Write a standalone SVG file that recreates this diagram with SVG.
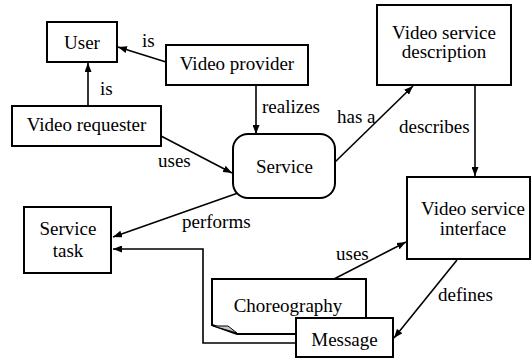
<svg xmlns="http://www.w3.org/2000/svg" width="531" height="360" viewBox="0 0 531 360">
  <style>
    .box { fill: #fff; stroke: #000; stroke-width: 2; }
    .lbl { font-family: "Liberation Serif", "Times New Roman", serif; font-size: 19px; fill: #000; }
    .mid { text-anchor: middle; }
    .edge { fill: none; stroke: #000; stroke-width: 1.6; marker-end: url(#arrow); }
  </style>
  <defs>
    <marker id="arrow" viewBox="0 0 9 7" refX="9" refY="3.5" markerWidth="9" markerHeight="7" markerUnits="userSpaceOnUse" orient="auto">
      <path d="M0,0 L9,3.5 L0,7 Z" fill="#000"/>
    </marker>
  </defs>
  <rect width="531" height="360" fill="#fff"/>

  <!-- connectors and their labels -->
  <g id="connectors">
    <line class="edge" x1="166" y1="62" x2="118" y2="47"/>
    <line class="edge" x1="88" y1="106" x2="88" y2="63"/>
    <line class="edge" x1="256" y1="85" x2="256" y2="134"/>
    <line class="edge" x1="161" y1="136" x2="232" y2="173"/>
    <line class="edge" x1="335" y1="162" x2="413" y2="86"/>
    <line class="edge" x1="475" y1="85" x2="475" y2="176"/>
    <line class="edge" x1="238" y1="193" x2="113" y2="237"/>
    <line class="edge" x1="334" y1="279" x2="406" y2="242"/>
    <line class="edge" x1="457" y1="260" x2="394" y2="338"/>
    <polyline class="edge" points="296,343 203,343 203,249 113,249"/>
    <text class="lbl" x="142" y="47">is</text>
    <text class="lbl" x="100" y="95">is</text>
    <text class="lbl" x="262" y="113">realizes</text>
    <text class="lbl" x="158" y="167">uses</text>
    <text class="lbl" x="337" y="123">has a</text>
    <text class="lbl" x="399" y="133">describes</text>
    <text class="lbl" x="182" y="228">performs</text>
    <text class="lbl" x="336" y="260">uses</text>
    <text class="lbl" x="438" y="301">defines</text>
  </g>

  <g id="user">
    <rect class="box" x="47" y="22" width="70" height="40"/>
    <text class="lbl mid" x="82" y="49">User</text>
  </g>
  <g id="video-provider">
    <rect class="box" x="166" y="45" width="142" height="40"/>
    <text class="lbl mid" x="237" y="70">Video provider</text>
  </g>
  <g id="video-requester">
    <rect class="box" x="12" y="106" width="149" height="40"/>
    <text class="lbl mid" x="86.5" y="131">Video requester</text>
  </g>
  <g id="service">
    <rect class="box" x="233" y="134" width="102" height="64" rx="15" ry="15"/>
    <text class="lbl mid" x="284.5" y="173">Service</text>
  </g>
  <g id="video-service-description">
    <rect class="box" x="377" y="5" width="134" height="80"/>
    <text class="lbl mid" x="444" y="39">Video service</text>
    <text class="lbl mid" x="444" y="58">description</text>
  </g>
  <g id="video-service-interface">
    <rect class="box" x="407" y="177" width="123" height="82"/>
    <text class="lbl mid" x="473" y="215">Video service</text>
    <text class="lbl mid" x="473" y="235">interface</text>
  </g>
  <g id="service-task">
    <rect class="box" x="24" y="207" width="87" height="66"/>
    <text class="lbl mid" x="68" y="235">Service</text>
    <text class="lbl mid" x="68" y="257">task</text>
  </g>
  <g id="choreography">
    <!-- document shape with a curled lower-left corner -->
    <path class="box" d="M212,279 H366 V334 H237 L212,325 Z"/>
    <path d="M213,326 L228,326 L237,333 Z" fill="#c8c8c8" stroke="#000" stroke-width="1"/>
    <text class="lbl mid" x="288" y="312">Choreography</text>
  </g>
  <g id="message">
    <rect class="box" x="296" y="318" width="97" height="39"/>
    <text class="lbl mid" x="344.5" y="346">Message</text>
  </g>
</svg>
